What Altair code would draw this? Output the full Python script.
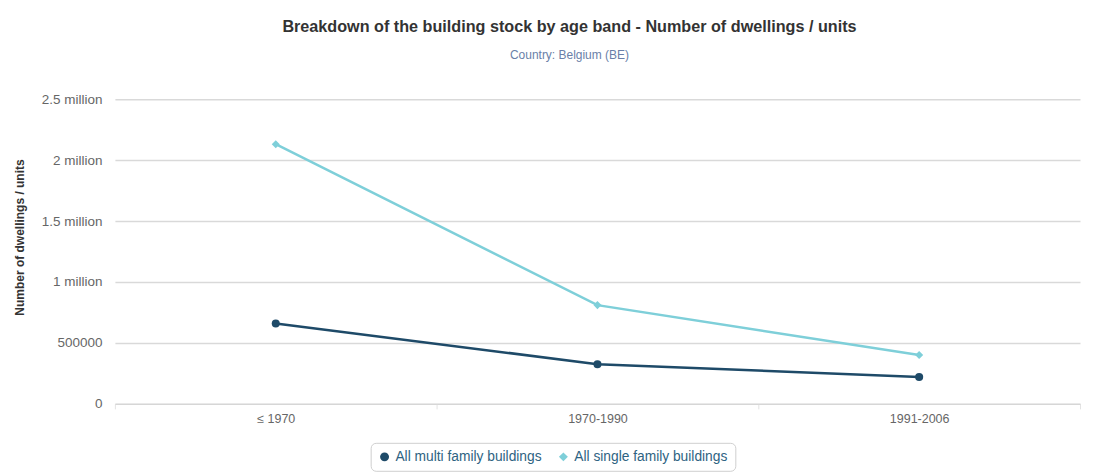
import altair as alt
import pandas as pd

categories = ["≤ 1970", "1970-1990", "1991-2006"]
multi_family = [660000, 325000, 220000]
single_family = [2130000, 810000, 400000]
series_names = ["All multi family buildings", "All single family buildings"]

rows = []
for name, vals in zip(series_names, [multi_family, single_family]):
    for c, v in zip(categories, vals):
        rows.append({"band": c, "value": v, "series": name})
df = pd.DataFrame(rows)

FONT = "Liberation Sans"
colors = ["#1e4a68", "#7ecfd9"]

x = alt.X("band:N", sort=categories, title=None,
          scale=alt.Scale(paddingInner=0, paddingOuter=0),
          axis=alt.Axis(labelAngle=0, labelColor="#666", labelFontSize=12.5,
                        labelFont=FONT, domainColor="#d6d6d6", tickColor="#e3e3e3",
                        tickBand="extent", tickSize=5, labelPadding=4, grid=False))
y = alt.Y("value:Q", title="Number of dwellings / units",
          scale=alt.Scale(domain=[0, 2500000], nice=False),
          axis=alt.Axis(values=[0, 500000, 1000000, 1500000, 2000000, 2500000],
                        labelExpr="datum.value == 0 ? '0' : datum.value == 500000 ? '500000' : (datum.value/1000000) + ' million'",
                        labelColor="#666", labelFontSize=13.5, labelFont=FONT,
                        titleFont=FONT, titleFontSize=12, titleColor="#333",
                        titleFontWeight="bold", titlePadding=15, titleY=138,
                        domain=False, ticks=False, labelPadding=13,
                        gridColor="#d9d9d9", gridWidth=1.5))
legend = alt.Legend(title=None, orient="none", direction="horizontal",
                    legendX=256, legendY=344, labelFont=FONT,
                    labelFontSize=13.8, labelColor="#2e6382",
                    strokeColor="#cfcfcf", cornerRadius=5,
                    padding=7, columnPadding=14, symbolSize=80,
                    symbolStrokeWidth=0)
color = alt.Color("series:N", scale=alt.Scale(domain=series_names, range=colors),
                  legend=legend)
shape = alt.Shape("series:N", scale=alt.Scale(domain=series_names, range=["circle", "diamond"]),
                  legend=legend)

base = alt.Chart(df)
lines = base.mark_line(strokeWidth=2.5).encode(x=x, y=y, color=color)
points = base.mark_point(filled=True, size=65, opacity=1).encode(x=x, y=y, color=color, shape=shape)

chart = (lines + points).properties(
    width=966, height=305,
    padding={"top": 10, "left": 5, "right": 5, "bottom": 5},
    title=alt.TitleParams(
        text="Breakdown of the building stock by age band - Number of dwellings / units",
        subtitle="Country: Belgium (BE)",
        font=FONT, fontSize=16.2, fontWeight="bold", color="#333",
        subtitleFont=FONT, subtitleFontSize=12, subtitleColor="#6a7fa8",
        subtitlePadding=15, offset=31, anchor="middle", dx=-28,
    ),
).configure_view(stroke=None)

chart.save("out.html", embed_options={"renderer": "svg", "actions": False})
